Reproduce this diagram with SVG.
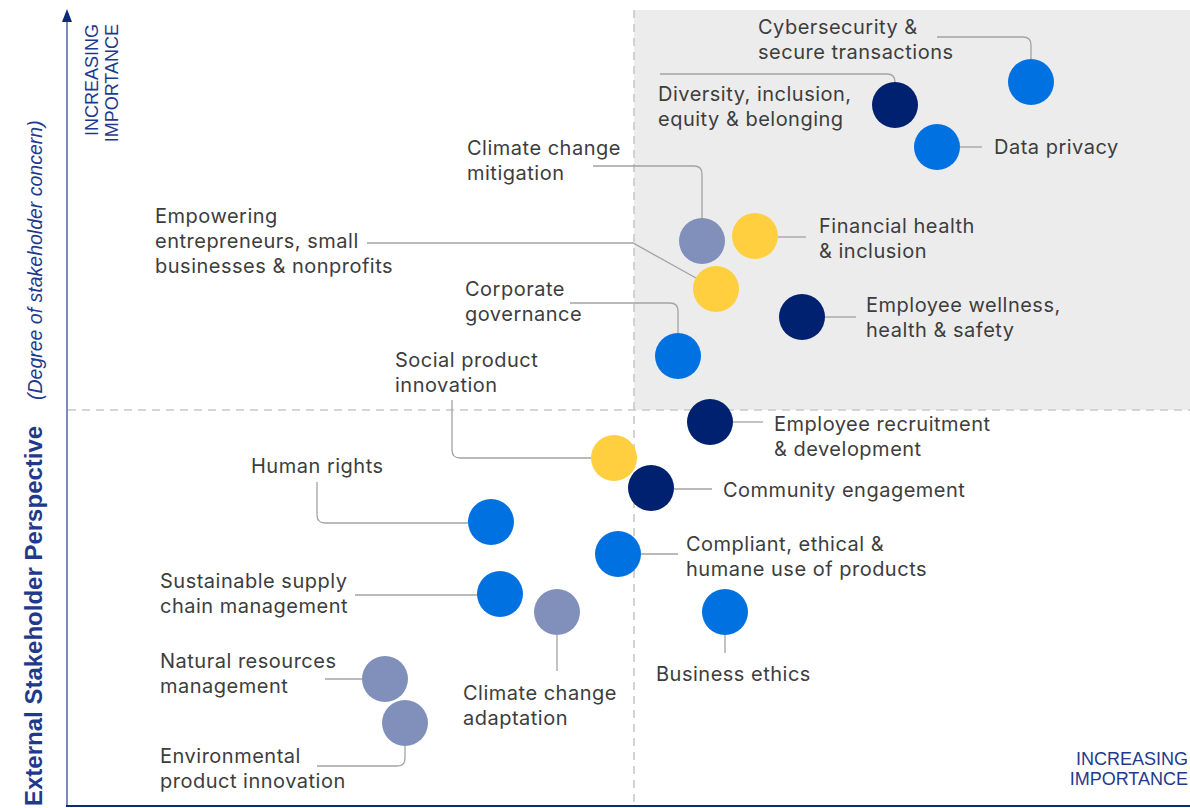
<svg xmlns="http://www.w3.org/2000/svg" width="1190" height="808" viewBox="0 0 1190 808">
<defs>
<style>
.lbl{font-family:Inter,"Liberation Sans",sans-serif;font-size:20px;letter-spacing:0.5px;fill:#3d3d3d}
.ax{font-family:"Liberation Sans",Arial,sans-serif;fill:#1f3a8c}
.con{fill:none;stroke:#a3a3a3;stroke-width:1.3}
.grid{stroke:#c9c9c9;stroke-width:1.6;stroke-dasharray:8 6;fill:none}
.blue{fill:#0071e0}
.navy{fill:#00216f}
.yel{fill:#ffcf40}
.slate{fill:#8090bb}
</style>
</defs>
<rect width="1190" height="808" fill="#ffffff"/>
<rect x="634" y="10" width="556" height="400" fill="#ececec"/>
<line class="grid" x1="634" y1="10" x2="634" y2="806"/>
<line class="grid" x1="68" y1="410" x2="1190" y2="410"/>
<g id="axes">
<line x1="67" y1="20" x2="67" y2="806" stroke="#5b6ea9" stroke-width="1.6"/>
<polygon points="67,9 62,22 72,22" fill="#0d2a78"/>
<line x1="66" y1="806" x2="1190" y2="806" stroke="#0d2a78" stroke-width="2"/>
<text class="ax" transform="translate(42,806) rotate(-90)" font-size="24" font-weight="bold" fill="#0d2a78">External Stakeholder Perspective</text>
<text class="ax" transform="translate(42,400) rotate(-90)" font-size="19.5" font-style="italic" fill="#0d2a78">(Degree of stakeholder concern)</text>
<text class="ax" transform="translate(98,24) rotate(-90)" font-size="18" text-anchor="end">INCREASING</text>
<text class="ax" transform="translate(118,24) rotate(-90)" font-size="18" text-anchor="end">IMPORTANCE</text>
<text class="ax" x="1188" y="765" font-size="18" text-anchor="end">INCREASING</text>
<text class="ax" x="1188" y="785" font-size="18" text-anchor="end">IMPORTANCE</text>
</g>
<g id="connectors">
<path class="con" d="M937,37 H1023 Q1031,37 1031,45 V59"/>
<path class="con" d="M660,74 H887 Q895,74 895,82"/>
<path class="con" d="M960,147 H982"/>
<path class="con" d="M593,166 H694 Q702,166 702,174 V219"/>
<path class="con" d="M778,237 H806"/>
<path class="con" d="M367,243 H633 L696,278"/>
<path class="con" d="M570,303 H670 Q678,303 678,311 V333"/>
<path class="con" d="M825,317 H856"/>
<path class="con" d="M733,422 H763"/>
<path class="con" d="M452,400 V450 Q452,458 460,458 H591"/>
<path class="con" d="M674,489 H712"/>
<path class="con" d="M317,482 V515 Q317,523 325,523 H468"/>
<path class="con" d="M641,554 H678"/>
<path class="con" d="M355,595 H478"/>
<path class="con" d="M557,635 V671"/>
<path class="con" d="M725,635 V653"/>
<path class="con" d="M325,679 H362"/>
<path class="con" d="M405,746 V758 Q405,766 397,766 H317"/>
</g>
<g id="n-cyber"><circle class="blue" cx="1031" cy="82" r="23"/><text class="lbl" x="758" y="34">Cybersecurity &amp;</text><text class="lbl" x="758" y="59">secure transactions</text></g>
<g id="n-diversity"><circle class="navy" cx="895" cy="105" r="23"/><text class="lbl" x="658" y="101">Diversity, inclusion,</text><text class="lbl" x="658" y="126">equity &amp; belonging</text></g>
<g id="n-privacy"><circle class="blue" cx="937" cy="147" r="23"/><text class="lbl" x="994" y="154">Data privacy</text></g>
<g id="n-mitigation"><circle class="slate" cx="702" cy="241" r="23"/><text class="lbl" x="467" y="155">Climate change</text><text class="lbl" x="467" y="180">mitigation</text></g>
<g id="n-financial"><circle class="yel" cx="755" cy="236" r="23"/><text class="lbl" x="819" y="233">Financial health</text><text class="lbl" x="819" y="258">&amp; inclusion</text></g>
<g id="n-empower"><circle class="yel" cx="716" cy="289" r="23"/><text class="lbl" x="155" y="223">Empowering</text><text class="lbl" x="155" y="248">entrepreneurs, small</text><text class="lbl" x="155" y="273">businesses &amp; nonprofits</text></g>
<g id="n-governance"><circle class="blue" cx="678" cy="356" r="23"/><text class="lbl" x="465" y="296">Corporate</text><text class="lbl" x="465" y="321">governance</text></g>
<g id="n-wellness"><circle class="navy" cx="802" cy="317" r="23"/><text class="lbl" x="866" y="312">Employee wellness,</text><text class="lbl" x="866" y="337">health &amp; safety</text></g>
<g id="n-recruit"><circle class="navy" cx="710" cy="422" r="23"/><text class="lbl" x="774" y="431">Employee recruitment</text><text class="lbl" x="774" y="456">&amp; development</text></g>
<g id="n-social"><circle class="yel" cx="614" cy="458" r="23"/><text class="lbl" x="395" y="367">Social product</text><text class="lbl" x="395" y="392">innovation</text></g>
<g id="n-community"><circle class="navy" cx="651" cy="488" r="23"/><text class="lbl" x="723" y="497">Community engagement</text></g>
<g id="n-human"><circle class="blue" cx="491" cy="522" r="23"/><text class="lbl" x="251" y="473">Human rights</text></g>
<g id="n-compliant"><circle class="blue" cx="618" cy="554" r="23"/><text class="lbl" x="686" y="551">Compliant, ethical &amp;</text><text class="lbl" x="686" y="576">humane use of products</text></g>
<g id="n-supply"><circle class="blue" cx="500" cy="594" r="23"/><text class="lbl" x="160" y="588">Sustainable supply</text><text class="lbl" x="160" y="613">chain management</text></g>
<g id="n-adaptation"><circle class="slate" cx="557" cy="612" r="23"/><text class="lbl" x="463" y="700">Climate change</text><text class="lbl" x="463" y="725">adaptation</text></g>
<g id="n-ethics"><circle class="blue" cx="725" cy="612" r="23"/><text class="lbl" x="656" y="681">Business ethics</text></g>
<g id="n-natural"><circle class="slate" cx="385" cy="679" r="23"/><text class="lbl" x="160" y="668">Natural resources</text><text class="lbl" x="160" y="693">management</text></g>
<g id="n-environmental"><circle class="slate" cx="405" cy="723" r="23"/><text class="lbl" x="160" y="763">Environmental</text><text class="lbl" x="160" y="788">product innovation</text></g>
</svg>
